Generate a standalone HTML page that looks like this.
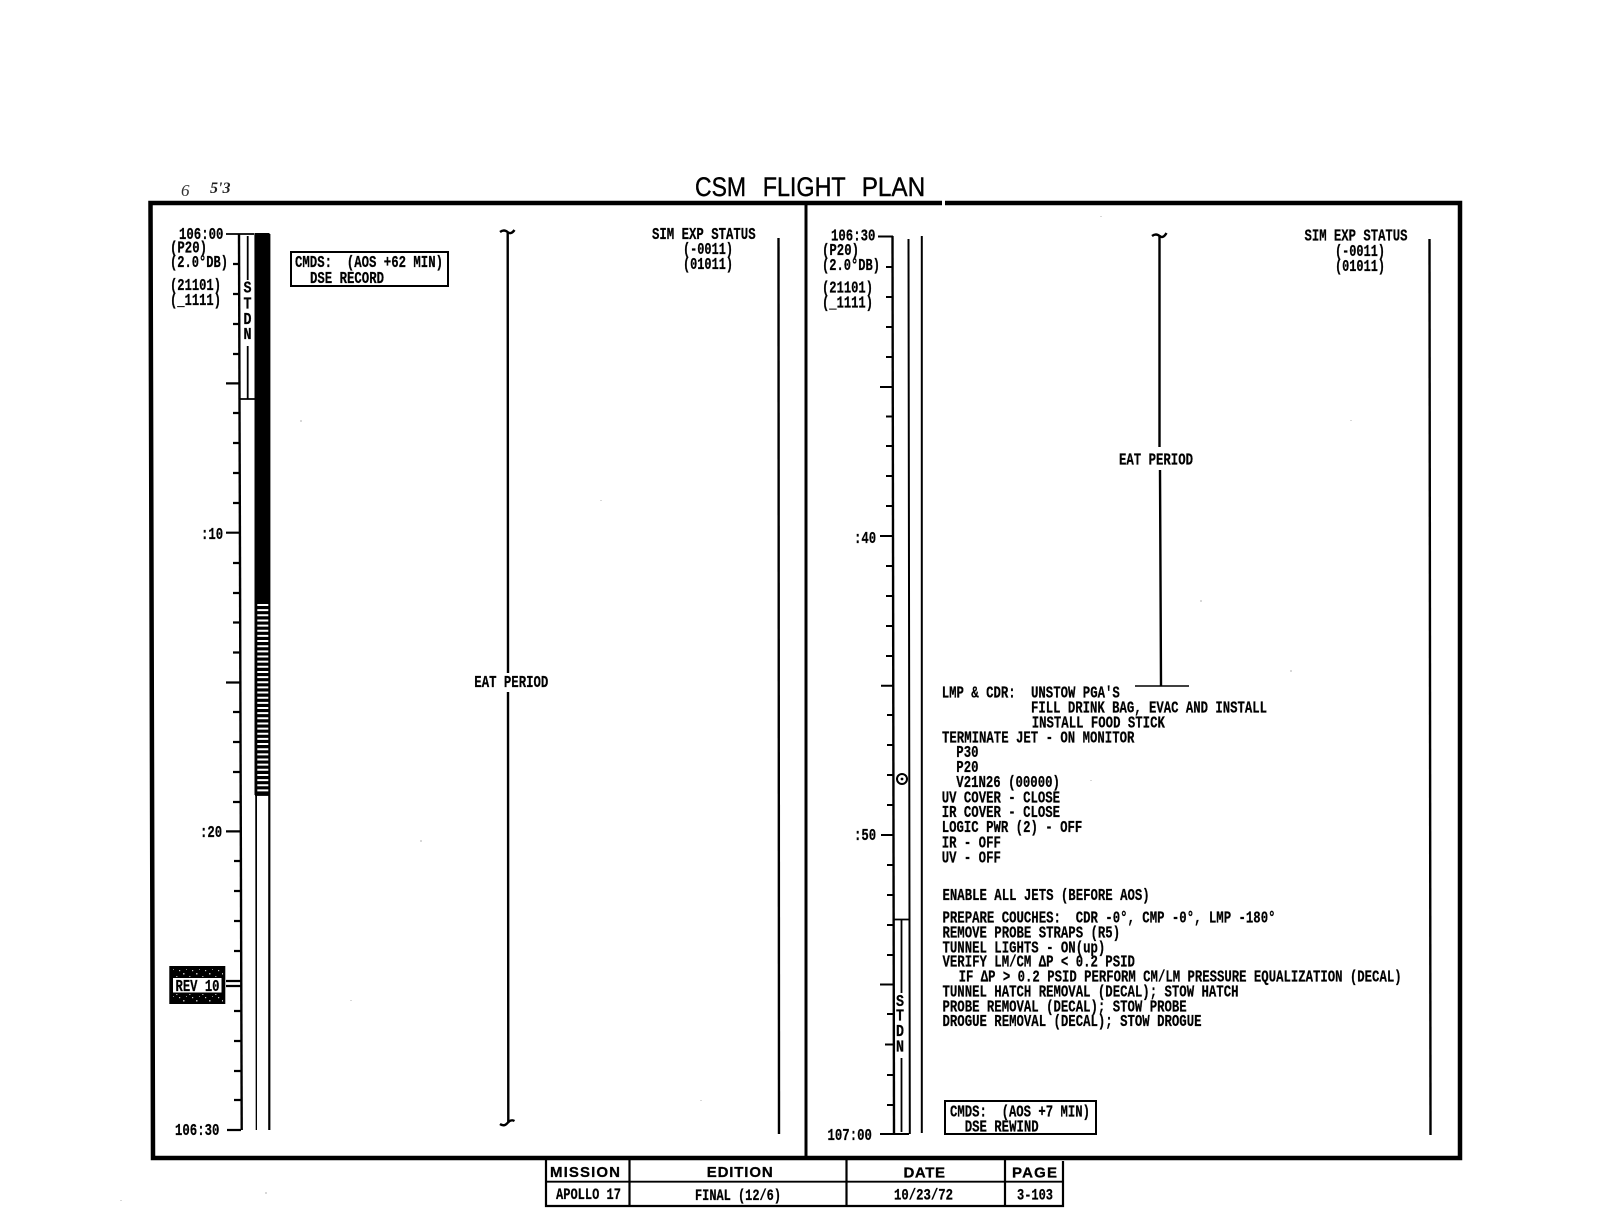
<!DOCTYPE html>
<html lang="en">
<head>
<meta charset="utf-8">
<title>CSM Flight Plan</title>
<style>
html,body{margin:0;padding:0;background:#fff;}
svg{display:block;}
.t{font-family:"Liberation Mono",monospace;font-weight:700;font-size:17px;fill:#000;stroke:#000;stroke-width:.25;white-space:pre;}
.h{font-family:"Liberation Sans",sans-serif;font-weight:700;font-size:15px;fill:#000;stroke:#000;stroke-width:.3;}
.s{font-family:"Liberation Mono",monospace;font-weight:700;font-size:17px;fill:#000;stroke:#000;stroke-width:.25;}
.title{font-family:"Liberation Sans",sans-serif;font-size:26.5px;fill:#000;stroke:#000;stroke-width:.4;}
.l{stroke:#000;fill:none;}
</style>
</head>
<body>
<svg width="1615" height="1216" viewBox="0 0 1615 1216" xmlns="http://www.w3.org/2000/svg">
<defs>
<pattern id="spk" width="13" height="9" patternUnits="userSpaceOnUse">
<rect x="1" y="1" width="1.5" height="1.5" fill="#bbb"/>
<rect x="7" y="4" width="1.5" height="1" fill="#999"/>
<rect x="10" y="7" width="1.2" height="1.2" fill="#ccc"/>
<rect x="4" y="6" width="1" height="1" fill="#888"/>
</pattern>
</defs>

<rect width="1615" height="1216" fill="#fff"/>

<!-- light scan speckle -->
<g fill="#d8d8d8">
<rect x="1100" y="216" width="2" height="1"/><rect x="300" y="420" width="2" height="2"/><rect x="600" y="500" width="2" height="1"/>
<rect x="420" y="840" width="2" height="2"/><rect x="350" y="1000" width="2" height="1"/><rect x="1200" y="600" width="2" height="2"/>
<rect x="1350" y="420" width="2" height="1"/><rect x="1290" y="670" width="2" height="2"/><rect x="120" y="1200" width="2" height="1"/>
<rect x="265" y="1192" width="2" height="2"/><rect x="700" y="1100" width="2" height="1"/><rect x="1090" y="780" width="2" height="1"/>
</g>

<!-- handwriting -->
<text x="181" y="196" font-family="Liberation Serif,serif" font-style="italic" font-size="17" fill="#333">6</text>
<text x="210" y="193" font-family="Liberation Serif,serif" font-style="italic" font-weight="700" font-size="16" fill="#222">5'3</text>

<!-- title -->
<text class="title" x="695" y="196" textLength="51" lengthAdjust="spacingAndGlyphs">CSM</text>
<text class="title" x="762.7" y="196" textLength="83" lengthAdjust="spacingAndGlyphs">FLIGHT</text>
<text class="title" x="861.7" y="196" textLength="63.5" lengthAdjust="spacingAndGlyphs">PLAN</text>

<!-- frame -->
<path class="l" stroke-width="4.5" d="M150.5 203 L153 1158 L1460 1158 L1460 203 Z"/>
<path class="l" stroke-width="3" d="M806 203 L806 1158"/>
<rect x="942" y="200" width="3" height="6" fill="#fff"/>

<!-- LEFT TAPE -->
<path class="l" stroke-width="2.4" d="M239 234 L241.7 1130"/>
<path class="l" stroke-width="2.2" d="M255.5 234 L256.8 1130 M269.3 234 L269.3 1130"/>
<path class="l" stroke-width="1.8" d="M226 234 H254"/>
<path class="l" stroke-width="2.2" d="M233 264H240 M233 294H240 M233 324H240 M233 354H240 M226 383.4H240 M233 413H240 M233 443H240 M233 473H240 M233 503H240 M226 532.7H240 M233 563H240 M233 593H240 M233 622.5H240 M233 652.5H240 M226 682.5H241 M233 712H241 M233 742H241 M233 772H241 M233 802H241 M226 831.4H241 M234 861H241 M234 891H241 M234 921H241 M234 951H241 M226 981H241 M226 986H241 M234 1011H241 M234 1041H241 M234 1071H241 M234 1100H241 M227 1130H241"/>
<path class="l" stroke-width="1.8" d="M247.7 236 V280 M247.7 346 V399 M239 399 H255"/>
<text class="s" x="243.5" y="292.7" textLength="8" lengthAdjust="spacingAndGlyphs">S</text>
<text class="s" x="243.5" y="308.3" textLength="8" lengthAdjust="spacingAndGlyphs">T</text>
<text class="s" x="243.5" y="324" textLength="8" lengthAdjust="spacingAndGlyphs">D</text>
<text class="s" x="243.5" y="339" textLength="8" lengthAdjust="spacingAndGlyphs">N</text>

<rect x="254.5" y="233" width="15" height="562" fill="#000"/>
<path d="M262.8 604 V794" stroke="#fff" stroke-width="11" stroke-dasharray="2 3.15" fill="none"/>
<rect x="257" y="795" width="11" height="335" fill="#fff"/>
<path class="l" stroke-width="1.8" d="M255 795 H270"/>

<text class="t" x="179" y="239" textLength="44.4" lengthAdjust="spacingAndGlyphs">106:00</text>
<text class="t" x="170" y="252.7" textLength="37" lengthAdjust="spacingAndGlyphs">(P20)</text>
<text class="t" x="170" y="267" textLength="58" lengthAdjust="spacingAndGlyphs">(2.0°DB)</text>
<text class="t" x="170" y="290" textLength="51" lengthAdjust="spacingAndGlyphs">(21101)</text>
<text class="t" x="170" y="305" textLength="51" lengthAdjust="spacingAndGlyphs">(_1111)</text>
<text class="t" x="201" y="539" textLength="22.2" lengthAdjust="spacingAndGlyphs">:10</text>
<text class="t" x="200" y="837" textLength="22.2" lengthAdjust="spacingAndGlyphs">:20</text>
<text class="t" x="175" y="1135" textLength="44.4" lengthAdjust="spacingAndGlyphs">106:30</text>

<!-- REV 10 -->
<rect x="169.3" y="966" width="56" height="38" fill="#000"/>
<rect x="172" y="968" width="51" height="9" fill="url(#spk)"/>
<rect x="172" y="994" width="51" height="8" fill="url(#spk)"/>
<rect x="173" y="978" width="48.5" height="14.5" fill="#fff"/>
<text class="t" x="175.5" y="991" textLength="44" lengthAdjust="spacingAndGlyphs">REV 10</text>

<!-- CMDS left -->
<rect x="291" y="252" width="157" height="34" class="l" stroke-width="2"/>
<text class="t" x="295" y="267" textLength="148" lengthAdjust="spacingAndGlyphs">CMDS:  (AOS +62 MIN)</text>
<text class="t" x="310" y="283" textLength="74" lengthAdjust="spacingAndGlyphs">DSE RECORD</text>

<!-- EAT left -->
<path class="l" stroke-width="2.4" d="M507.7 232 L508 673 M508 692 L508.3 1123"/>
<path class="l" stroke-width="2.4" d="M500 232 q4 -3 7.5 0 t7 -2 M500 1124 q4 3 7.5 -1 t7 -2"/>
<text class="t" x="474.3" y="687" textLength="74" lengthAdjust="spacingAndGlyphs">EAT PERIOD</text>

<!-- SIM left -->
<text class="t" x="652" y="239" textLength="103.6" lengthAdjust="spacingAndGlyphs">SIM EXP STATUS</text>
<text class="t" x="683" y="254" textLength="50" lengthAdjust="spacingAndGlyphs">(-0011)</text>
<text class="t" x="683" y="269" textLength="50" lengthAdjust="spacingAndGlyphs">(01011)</text>
<path class="l" stroke-width="2.4" d="M778.5 238 L779 1134"/>

<!-- RIGHT TAPE -->
<path class="l" stroke-width="2.4" d="M892.5 236 L894 1134"/>
<path class="l" stroke-width="2" d="M908.5 239 L909.8 1134 M921.8 236 L921.8 1133"/>
<path class="l" stroke-width="2" d="M878 236.5 H893 M886 267H893 M886 297H893 M886 327H893 M886 357H893 M880 387H893 M886 416.5H893 M886 446H893 M886 476H893 M886 506H893 M880 536H894 M886 566H894 M886 596H894 M886 626H894 M886 656H894 M881 685.7H894 M887 715H894 M887 745H894 M887 775H894 M887 805H894 M881 835H894 M887 865H894 M887 895H894 M887 925H894 M887 955H894 M880 984.5H894 M887 1014H894 M885 1044.5H894 M887 1075H894 M887 1105H894 M880 1134H909"/>
<path class="l" stroke-width="1.8" d="M894 919.5 H909 M901.5 920 V993 M901.5 1058 V1132"/>
<text class="s" x="896" y="1006" textLength="8" lengthAdjust="spacingAndGlyphs">S</text>
<text class="s" x="896" y="1020.7" textLength="8" lengthAdjust="spacingAndGlyphs">T</text>
<text class="s" x="896" y="1036" textLength="8" lengthAdjust="spacingAndGlyphs">D</text>
<text class="s" x="896" y="1051.7" textLength="8" lengthAdjust="spacingAndGlyphs">N</text>
<circle cx="902" cy="779" r="5" fill="#fff" stroke="#000" stroke-width="2"/>
<circle cx="902" cy="779" r="1.4" fill="#000"/>

<text class="t" x="831" y="240.7" textLength="44.4" lengthAdjust="spacingAndGlyphs">106:30</text>
<text class="t" x="822" y="255" textLength="37" lengthAdjust="spacingAndGlyphs">(P20)</text>
<text class="t" x="822" y="270" textLength="58" lengthAdjust="spacingAndGlyphs">(2.0°DB)</text>
<text class="t" x="822" y="292.7" textLength="51" lengthAdjust="spacingAndGlyphs">(21101)</text>
<text class="t" x="822" y="307.7" textLength="51" lengthAdjust="spacingAndGlyphs">(_1111)</text>
<text class="t" x="854" y="543" textLength="22.2" lengthAdjust="spacingAndGlyphs">:40</text>
<text class="t" x="854" y="840" textLength="22.2" lengthAdjust="spacingAndGlyphs">:50</text>
<text class="t" x="827.5" y="1140" textLength="44.4" lengthAdjust="spacingAndGlyphs">107:00</text>

<!-- EAT right -->
<path class="l" stroke-width="2.4" d="M1159.5 235 V447 M1160 470 L1161 685.7"/>
<path class="l" stroke-width="2.4" d="M1152 236 q4 -3 7.5 0 t7 -3"/>
<path class="l" stroke-width="1.6" d="M1135 686 H1189"/>
<text class="t" x="1119" y="464.5" textLength="74" lengthAdjust="spacingAndGlyphs">EAT PERIOD</text>

<!-- SIM right -->
<text class="t" x="1304.5" y="240.7" textLength="103" lengthAdjust="spacingAndGlyphs">SIM EXP STATUS</text>
<text class="t" x="1335" y="256" textLength="50" lengthAdjust="spacingAndGlyphs">(-0011)</text>
<text class="t" x="1335" y="271" textLength="50" lengthAdjust="spacingAndGlyphs">(01011)</text>
<path class="l" stroke-width="2.4" d="M1429.5 239 L1430.5 1135"/>

<!-- Activity text -->
<text class="t" x="941.7" y="697.7" textLength="74" lengthAdjust="spacingAndGlyphs">LMP &amp; CDR:</text>
<text class="t" x="1031" y="697.7" textLength="88.8" lengthAdjust="spacingAndGlyphs">UNSTOW PGA'S</text>
<text class="t" x="1031" y="712.7" textLength="236" lengthAdjust="spacingAndGlyphs">FILL DRINK BAG, EVAC AND INSTALL</text>
<text class="t" x="1031.7" y="727.7" textLength="133.2" lengthAdjust="spacingAndGlyphs">INSTALL FOOD STICK</text>
<text class="t" x="942" y="742.7" textLength="192.4" lengthAdjust="spacingAndGlyphs">TERMINATE JET - ON MONITOR</text>
<text class="t" x="956.3" y="757" textLength="22.2" lengthAdjust="spacingAndGlyphs">P30</text>
<text class="t" x="956.3" y="772" textLength="22.2" lengthAdjust="spacingAndGlyphs">P20</text>
<text class="t" x="956.3" y="787" textLength="103.6" lengthAdjust="spacingAndGlyphs">V21N26 (00000)</text>
<text class="t" x="941.7" y="802.7" textLength="118.4" lengthAdjust="spacingAndGlyphs">UV COVER - CLOSE</text>
<text class="t" x="941.7" y="817" textLength="118.4" lengthAdjust="spacingAndGlyphs">IR COVER - CLOSE</text>
<text class="t" x="941.7" y="832" textLength="140.6" lengthAdjust="spacingAndGlyphs">LOGIC PWR (2) - OFF</text>
<text class="t" x="941.7" y="847.7" textLength="59.2" lengthAdjust="spacingAndGlyphs">IR - OFF</text>
<text class="t" x="941.7" y="862.3" textLength="59.2" lengthAdjust="spacingAndGlyphs">UV - OFF</text>
<text class="t" x="942.5" y="900" textLength="207.2" lengthAdjust="spacingAndGlyphs">ENABLE ALL JETS (BEFORE AOS)</text>
<text class="t" x="942.5" y="922.7" textLength="333" lengthAdjust="spacingAndGlyphs">PREPARE COUCHES:  CDR -0°, CMP -0°, LMP -180°</text>
<text class="t" x="942.5" y="937.3" textLength="177.6" lengthAdjust="spacingAndGlyphs">REMOVE PROBE STRAPS (R5)</text>
<text class="t" x="942.5" y="952.3" textLength="162.8" lengthAdjust="spacingAndGlyphs">TUNNEL LIGHTS - ON(up)</text>
<text class="t" x="942.5" y="966.7" textLength="192.4" lengthAdjust="spacingAndGlyphs">VERIFY LM/CM ΔP &lt; 0.2 PSID</text>
<text class="t" x="958.6" y="981.7" textLength="443" lengthAdjust="spacingAndGlyphs">IF ΔP &gt; 0.2 PSID PERFORM CM/LM PRESSURE EQUALIZATION (DECAL)</text>
<text class="t" x="942.5" y="996.7" textLength="296" lengthAdjust="spacingAndGlyphs">TUNNEL HATCH REMOVAL (DECAL); STOW HATCH</text>
<text class="t" x="942.5" y="1011.7" textLength="244.2" lengthAdjust="spacingAndGlyphs">PROBE REMOVAL (DECAL); STOW PROBE</text>
<text class="t" x="942.5" y="1026" textLength="259" lengthAdjust="spacingAndGlyphs">DROGUE REMOVAL (DECAL); STOW DROGUE</text>

<!-- CMDS right -->
<rect x="945" y="1101" width="151" height="33" class="l" stroke-width="2"/>
<text class="t" x="950" y="1116.7" textLength="140" lengthAdjust="spacingAndGlyphs">CMDS:  (AOS +7 MIN)</text>
<text class="t" x="964.7" y="1131.7" textLength="74" lengthAdjust="spacingAndGlyphs">DSE REWIND</text>

<!-- Footer table -->
<path class="l" stroke-width="2.2" d="M546 1160 V1206 H1063 V1161 M629.5 1160 V1206 M846.5 1160 V1206 M1005 1160 V1206"/>
<path class="l" stroke-width="1.8" d="M546 1181.7 H1063"/>
<text class="h" x="550" y="1177" textLength="70" lengthAdjust="spacing">MISSION</text>
<text class="h" x="706.7" y="1177" textLength="66" lengthAdjust="spacing">EDITION</text>
<text class="h" x="903.5" y="1177.5" textLength="41.5" lengthAdjust="spacing">DATE</text>
<text class="h" x="1012" y="1177.5" textLength="45" lengthAdjust="spacing">PAGE</text>
<text class="t" x="556" y="1199" style="font-size:16px" textLength="65" lengthAdjust="spacingAndGlyphs">APOLLO 17</text>
<text class="t" x="695" y="1200" style="font-size:16px" textLength="86" lengthAdjust="spacingAndGlyphs">FINAL (12/6)</text>
<text class="t" x="894" y="1199.5" style="font-size:16px" textLength="59" lengthAdjust="spacingAndGlyphs">10/23/72</text>
<text class="t" x="1017" y="1199.5" style="font-size:16px" textLength="36" lengthAdjust="spacingAndGlyphs">3-103</text>
</svg>
</body>
</html>
